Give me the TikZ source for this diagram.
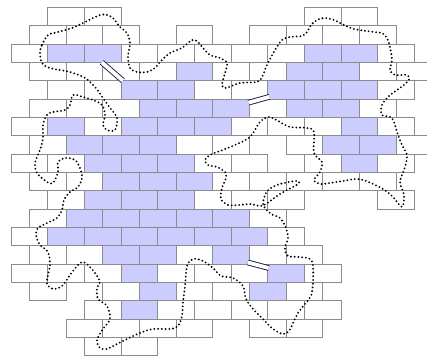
\documentclass[tikz,border=0pt]{standalone}
\usepackage{tikz}
\usepackage{xcolor}
\usetikzlibrary{calc}
\definecolor{WallGray}{HTML}{8C8C8C}
\definecolor{WallWhite}{HTML}{FFFFFF}
\definecolor{WallBlue}{HTML}{CCCCFF}
\definecolor{SlitNavy}{HTML}{1A1A40}
\tikzset{
    % Brick styles
    whitebrick/.style={
        draw=WallGray,
        fill=WallWhite,
        line width=0.75pt
    },
    bluebrick/.style={
        draw=WallGray,
        fill=WallBlue,
        line width=0.75pt
    },
    % Slit styles
    slitline/.style={
        draw=SlitNavy,
        line width=0.7pt,
        double=white,
        double distance=3pt
    },
    % Loop styles
    looppath/.style={
        draw=black,
        line width=1.6pt,
        line cap=round,
        dash pattern=on 0pt off 2.9pt
    }
}
\begin{document}
\begin{tikzpicture}[x=0.5cm, y=0.5cm]
            \useasboundingbox (-0.6,-19.02) rectangle (22.69,0.4);

            % White bricks (row/columns)
            \foreach \r/\cs in {0/{2,4,16,18}, 1/{1,3,5,9,13,15,17,19},
                2/{0,6,8,10,12,14,20}, 3/{1,3,5,7,11,13,19,21},
                4/{2,4,10,12,20}, 5/{1,3,5,13,19}, 6/{0,4,12,14,16,20},
                7/{1,9,11,15,21}, 8/{0,2,10,12,16,20}, 9/{1,3,11,13,15,17,19},
                10/{2,10,12,14,20}, 11/{1,13}, 12/{0,14}, 13/{1,3,9,13,15},
                14/{0,2,4,8,10,12,16}, 15/{1,5,9,11,15}, 16/{4,8,10,12,14,16},
                17/{3,5,7,9,13,15}, 18/{4,6}}
                \foreach \c in \cs
                    \draw[whitebrick] (\c,-\r) rectangle ++(2,-1);

            % Blue bricks
            \foreach \r/\cs in {2/{2,4,16,18}, 3/{9,15,17}, 4/{6,8,14,16,18},
                5/{7,9,11,15,17}, 6/{2,6,8,10,18}, 7/{3,5,7,17,19},
                8/{4,6,8,18}, 9/{5,7,9}, 10/{4,6,8}, 11/{3,5,7,9,11},
                12/{2,4,6,8,10,12}, 13/{5,7,11}, 14/{6,14}, 15/{7,13}, 16/{6}}
                \foreach \c in \cs
                    \draw[bluebrick] (\c,-\r) rectangle ++(2,-1);

            % Slits
            \draw[slitline] (4.95,-3) -- (6.1,-4);
            \draw[slitline] (12.95,-5.2) -- (14.1,-4.88);
            \draw[slitline] (12.92,-13.92) -- (14.06,-14.22);

            % Dotted loop (pixel grid)
            \begin{scope}[shift={(-0.6,0.4)}, x=0.2727mm, y=-0.2727mm]
                \draw[looppath] plot[smooth cycle, tension=0.55] coordinates {
                    (40,52) (42,45) (48,35) (58,32) (72,28) (85,22) (100,15) (107,15)
                    (113,18) (120,27) (127,33) (130,43) (128,57) (130,68) (137,72)
                    (147,72) (155,68) (160,62) (170,53) (182,48) (192,40) (198,42)
                    (203,48) (210,55) (220,58) (227,63) (225,73) (222,85) (226,88)
                    (240,83) (257,82) (262,77) (267,65) (275,50) (282,40) (290,37)
                    (302,36) (307,32) (311,25) (317,20) (324,18) (334,20) (344,25)
                    (354,29) (374,32) (382,33) (387,38) (390,47) (392,60) (390,70)
                    (395,75) (407,75) (409,80) (400,88) (389,96) (382,105) (382,115)
                    (392,118) (397,132) (402,145) (407,155) (405,167) (400,182)
                    (404,195) (402,207) (393,197) (383,189) (366,181) (356,179)
                    (343,181) (330,183) (320,184) (314,180) (320,172) (322,162)
                    (314,153) (314,132) (307,128) (290,127) (280,122) (269,117)
                    (260,122) (250,137) (235,145) (220,151) (210,155) (205,160)
                    (208,165) (217,167) (225,172) (226,178) (222,188) (221,199)
                    (228,205) (240,205) (250,204) (260,206) (266,204) (280,194)
                    (298,184) (296,181) (280,184) (271,188) (266,193) (263,203)
                    (265,208) (271,214) (280,218) (286,228) (288,238) (285,248)
                    (288,256) (300,257) (310,259) (313,266) (313,283) (311,296)
                    (305,304) (298,313) (293,323) (289,331) (283,334) (273,329)
                    (263,319) (253,309) (246,299) (243,286) (233,278) (221,276)
                    (213,268) (203,261) (193,259) (187,266) (185,286) (183,303)
                    (182,316) (178,326) (170,329) (153,329) (140,333) (127,339)
                    (117,344) (107,349) (100,348) (97,340) (103,329) (110,319)
                    (107,306) (98,299) (97,288) (100,282) (95,273) (88,265) (83,262)
                    (78,265) (70,275) (62,286) (53,289) (47,284) (48,275) (50,265)
                    (48,252) (40,245) (36,235) (38,228) (47,223) (57,218) (62,210)
                    (64,200) (70,192) (78,187) (82,178) (80,168) (75,160) (65,158)
                    (58,162) (58,172) (53,183) (47,182) (37,173) (35,163) (40,150)
                    (43,138) (43,125) (47,115) (53,112) (65,110) (70,105) (73,95)
                    (83,97) (93,100) (102,105) (105,115) (103,125) (107,130) (115,130)
                    (117,118) (110,108) (103,98) (95,87) (85,78) (70,72) (50,68)
                    (42,63)};
            \end{scope}
\end{tikzpicture}
\end{document}
